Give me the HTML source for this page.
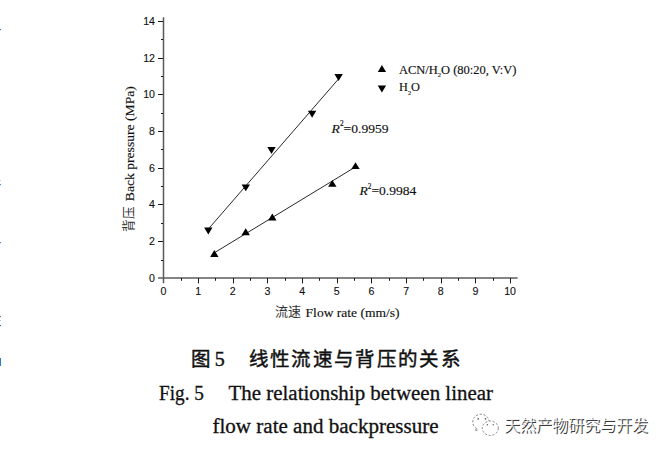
<!DOCTYPE html>
<html lang="zh-CN">
<head>
<meta charset="utf-8">
<style>
html,body{margin:0;padding:0;background:#fff;}
body{width:670px;height:455px;position:relative;overflow:hidden;}
svg{position:absolute;left:0;top:0;}
</style>
</head>
<body>
<svg width="670" height="455" viewBox="0 0 670 455">
<line x1="158" y1="278" x2="517.6" y2="278" stroke="#858585" stroke-width="2"/>
<line x1="163.5" y1="17.2" x2="163.5" y2="283.3" stroke="#5a5a5a" stroke-width="1.5"/>
<g stroke="#1a1a1a" stroke-width="1" fill="none">
<line x1="181.50" y1="278" x2="181.50" y2="280.8"/>
<line x1="198.50" y1="278" x2="198.50" y2="283.4"/>
<line x1="215.50" y1="278" x2="215.50" y2="280.8"/>
<line x1="233.50" y1="278" x2="233.50" y2="283.4"/>
<line x1="250.50" y1="278" x2="250.50" y2="280.8"/>
<line x1="267.50" y1="278" x2="267.50" y2="283.4"/>
<line x1="285.50" y1="278" x2="285.50" y2="280.8"/>
<line x1="302.50" y1="278" x2="302.50" y2="283.4"/>
<line x1="319.50" y1="278" x2="319.50" y2="280.8"/>
<line x1="337.50" y1="278" x2="337.50" y2="283.4"/>
<line x1="354.50" y1="278" x2="354.50" y2="280.8"/>
<line x1="371.50" y1="278" x2="371.50" y2="283.4"/>
<line x1="389.50" y1="278" x2="389.50" y2="280.8"/>
<line x1="406.50" y1="278" x2="406.50" y2="283.4"/>
<line x1="423.50" y1="278" x2="423.50" y2="280.8"/>
<line x1="441.50" y1="278" x2="441.50" y2="283.4"/>
<line x1="458.50" y1="278" x2="458.50" y2="280.8"/>
<line x1="475.50" y1="278" x2="475.50" y2="283.4"/>
<line x1="493.50" y1="278" x2="493.50" y2="280.8"/>
<line x1="510.50" y1="278" x2="510.50" y2="283.4"/>
<line x1="161" y1="260.50" x2="163" y2="260.50"/>
<line x1="158" y1="241.50" x2="163" y2="241.50"/>
<line x1="161" y1="223.50" x2="163" y2="223.50"/>
<line x1="158" y1="204.50" x2="163" y2="204.50"/>
<line x1="161" y1="186.50" x2="163" y2="186.50"/>
<line x1="158" y1="168.50" x2="163" y2="168.50"/>
<line x1="161" y1="149.50" x2="163" y2="149.50"/>
<line x1="158" y1="131.50" x2="163" y2="131.50"/>
<line x1="161" y1="113.50" x2="163" y2="113.50"/>
<line x1="158" y1="94.50" x2="163" y2="94.50"/>
<line x1="161" y1="76.50" x2="163" y2="76.50"/>
<line x1="158" y1="58.50" x2="163" y2="58.50"/>
<line x1="161" y1="39.50" x2="163" y2="39.50"/>
<line x1="158" y1="21.50" x2="163" y2="21.50"/>
</g>
<g stroke="#111" stroke-width="0.9" fill="none">
<line x1="214.3" y1="252.8" x2="355.5" y2="166.9"/>
<line x1="208.3" y1="229.1" x2="338.6" y2="78.9"/>
</g>
<g fill="#000">
<path d="M210.2 256.9L218.5 256.9L214.3 250.1Z"/>
<path d="M241.5 235.2L249.9 235.2L245.7 228.3Z"/>
<path d="M268.1 220.5L276.5 220.5L272.3 213.6Z"/>
<path d="M328.1 186.8L336.5 186.8L332.3 179.9Z"/>
<path d="M351.3 169.1L359.7 169.1L355.5 162.2Z"/>
<path d="M377.8 71.9L386.1 71.9L381.9 65.0Z"/>
<path d="M204.1 227.5L212.5 227.5L208.3 234.4Z"/>
<path d="M241.6 184.4L250.0 184.4L245.8 191.2Z"/>
<path d="M267.3 147.1L275.7 147.1L271.5 154.0Z"/>
<path d="M307.9 110.8L316.3 110.8L312.1 117.7Z"/>
<path d="M334.4 74.0L342.8 74.0L338.6 81.0Z"/>
<path d="M377.7 85.5L386.1 85.5L381.9 92.4Z"/>
</g>
<g font-family="'Liberation Sans', sans-serif" font-size="10.6" fill="#111" stroke="#111" stroke-width="0.12">
<text x="163.5" y="295.2" text-anchor="middle">0</text>
<text x="198.2" y="295.2" text-anchor="middle">1</text>
<text x="232.8" y="295.2" text-anchor="middle">2</text>
<text x="267.5" y="295.2" text-anchor="middle">3</text>
<text x="302.1" y="295.2" text-anchor="middle">4</text>
<text x="336.8" y="295.2" text-anchor="middle">5</text>
<text x="371.5" y="295.2" text-anchor="middle">6</text>
<text x="406.1" y="295.2" text-anchor="middle">7</text>
<text x="440.8" y="295.2" text-anchor="middle">8</text>
<text x="475.4" y="295.2" text-anchor="middle">9</text>
<text x="510.1" y="295.2" text-anchor="middle">10</text>
<text x="155.0" y="281.7" text-anchor="end">0</text>
<text x="155.0" y="245.0" text-anchor="end">2</text>
<text x="155.0" y="208.3" text-anchor="end">4</text>
<text x="155.0" y="171.6" text-anchor="end">6</text>
<text x="155.0" y="134.9" text-anchor="end">8</text>
<text x="155.0" y="98.2" text-anchor="end">10</text>
<text x="155.0" y="61.5" text-anchor="end">12</text>
<text x="155.0" y="24.8" text-anchor="end">14</text>
</g>
<g font-family="'Liberation Serif', serif" fill="#111" stroke="#111" stroke-width="0.15">
<text x="399" y="73.9" font-size="12.5" textLength="117.5" lengthAdjust="spacingAndGlyphs">ACN/H<tspan font-size="6.6" dy="3.2">2</tspan><tspan dy="-3.2">O (80:20, V:V)</tspan></text>
<text x="399" y="91.4" font-size="12.5" textLength="21" lengthAdjust="spacingAndGlyphs">H<tspan font-size="6.6" dy="3.2">2</tspan><tspan dy="-3.2">O</tspan></text>
<text x="331.6" y="132.9" font-size="13.5" textLength="57" lengthAdjust="spacingAndGlyphs"><tspan font-style="italic">R</tspan><tspan font-size="7.4" dy="-6.6">2</tspan><tspan dy="6.6">=0.9959</tspan></text>
<text x="359.4" y="195.2" font-size="13.5" textLength="57" lengthAdjust="spacingAndGlyphs"><tspan font-style="italic">R</tspan><tspan font-size="7.4" dy="-6.6">2</tspan><tspan dy="6.6">=0.9984</tspan></text>
<text x="275" y="316.2" font-size="13" stroke-width="0" fill="#333" textLength="26" lengthAdjust="spacingAndGlyphs">流速</text>
<text x="305.6" y="317.1" font-size="13.4" textLength="94" lengthAdjust="spacingAndGlyphs">Flow rate (mm/s)</text>
<text transform="translate(132.7,231.5) rotate(-90)" font-size="13" stroke-width="0" fill="#333" textLength="25" lengthAdjust="spacingAndGlyphs">背压</text>
<text transform="translate(133.5,201.2) rotate(-90)" font-size="12.2" textLength="115" lengthAdjust="spacingAndGlyphs">Back pressure (MPa)</text>
</g>
<g fill="#111">
<text x="191" y="366" font-family="'Liberation Sans', sans-serif" font-size="19.5" stroke="#111" stroke-width="0.45">图</text>
<text x="214.8" y="366.2" font-family="'Liberation Serif', serif" font-size="20" stroke="#111" stroke-width="0.4">5</text>
<text x="248.5" y="366" font-family="'Liberation Sans', sans-serif" font-size="19.5" stroke="#111" stroke-width="0.45" textLength="212" lengthAdjust="spacing">线性流速与背压的关系</text>
</g>
<g font-family="'Liberation Serif', serif" font-size="20.5" fill="#111" stroke="#111" stroke-width="0.3">
<text x="159" y="399.9" textLength="45" lengthAdjust="spacingAndGlyphs">Fig. 5</text>
<text x="228.5" y="399.9" textLength="264.5" lengthAdjust="spacingAndGlyphs">The relationship between linear</text>
<text x="212.5" y="433.3" textLength="226" lengthAdjust="spacingAndGlyphs">flow rate and backpressure</text>
</g>
<g fill="none" stroke="#7a7a7a" stroke-width="0.9" stroke-dasharray="2.2 1.6">
<path d="M476.5 428.6 A8.2 7.8 0 1 1 483 429.6"/>
<path d="M476.5 428.6 L474.8 431 L478.6 429.6"/>
<ellipse cx="490.3" cy="428.2" rx="8" ry="7.2" fill="#fff"/>
</g>
<g fill="#555">
<circle cx="478.2" cy="418.9" r="0.8"/><circle cx="485.5" cy="418.9" r="0.8"/>
<circle cx="487.3" cy="424.8" r="0.7"/><circle cx="493.2" cy="424.8" r="0.7"/>
</g>
<text x="504.7" y="432.4" font-family="'Liberation Sans', sans-serif" font-size="16" fill="#3a3a3a" textLength="144" lengthAdjust="spacing">天然产物研究与开发</text>
<text x="504.1" y="431.4" font-family="'Liberation Sans', sans-serif" font-size="16" fill="#ffffff" fill-opacity="0.75" textLength="144" lengthAdjust="spacing">天然产物研究与开发</text>
<g>
<rect x="0" y="29" width="1" height="1.2" fill="#3c7fd6"/>
<rect x="0" y="180" width="1" height="1" fill="#a8d8f0"/>
<rect x="0" y="184" width="1" height="1.2" fill="#4a8ad8"/>
<rect x="0" y="242" width="1" height="1.2" fill="#4a8ad8"/>
<rect x="0" y="316" width="1" height="1.2" fill="#6a6aa8"/>
<rect x="0" y="320" width="1" height="1" fill="#9cc8ee"/>
<rect x="0" y="325" width="1" height="1.2" fill="#4a6a88"/>
<rect x="0" y="358" width="1" height="8" fill="#2a80d0"/>
</g>
</svg>
</body>
</html>
